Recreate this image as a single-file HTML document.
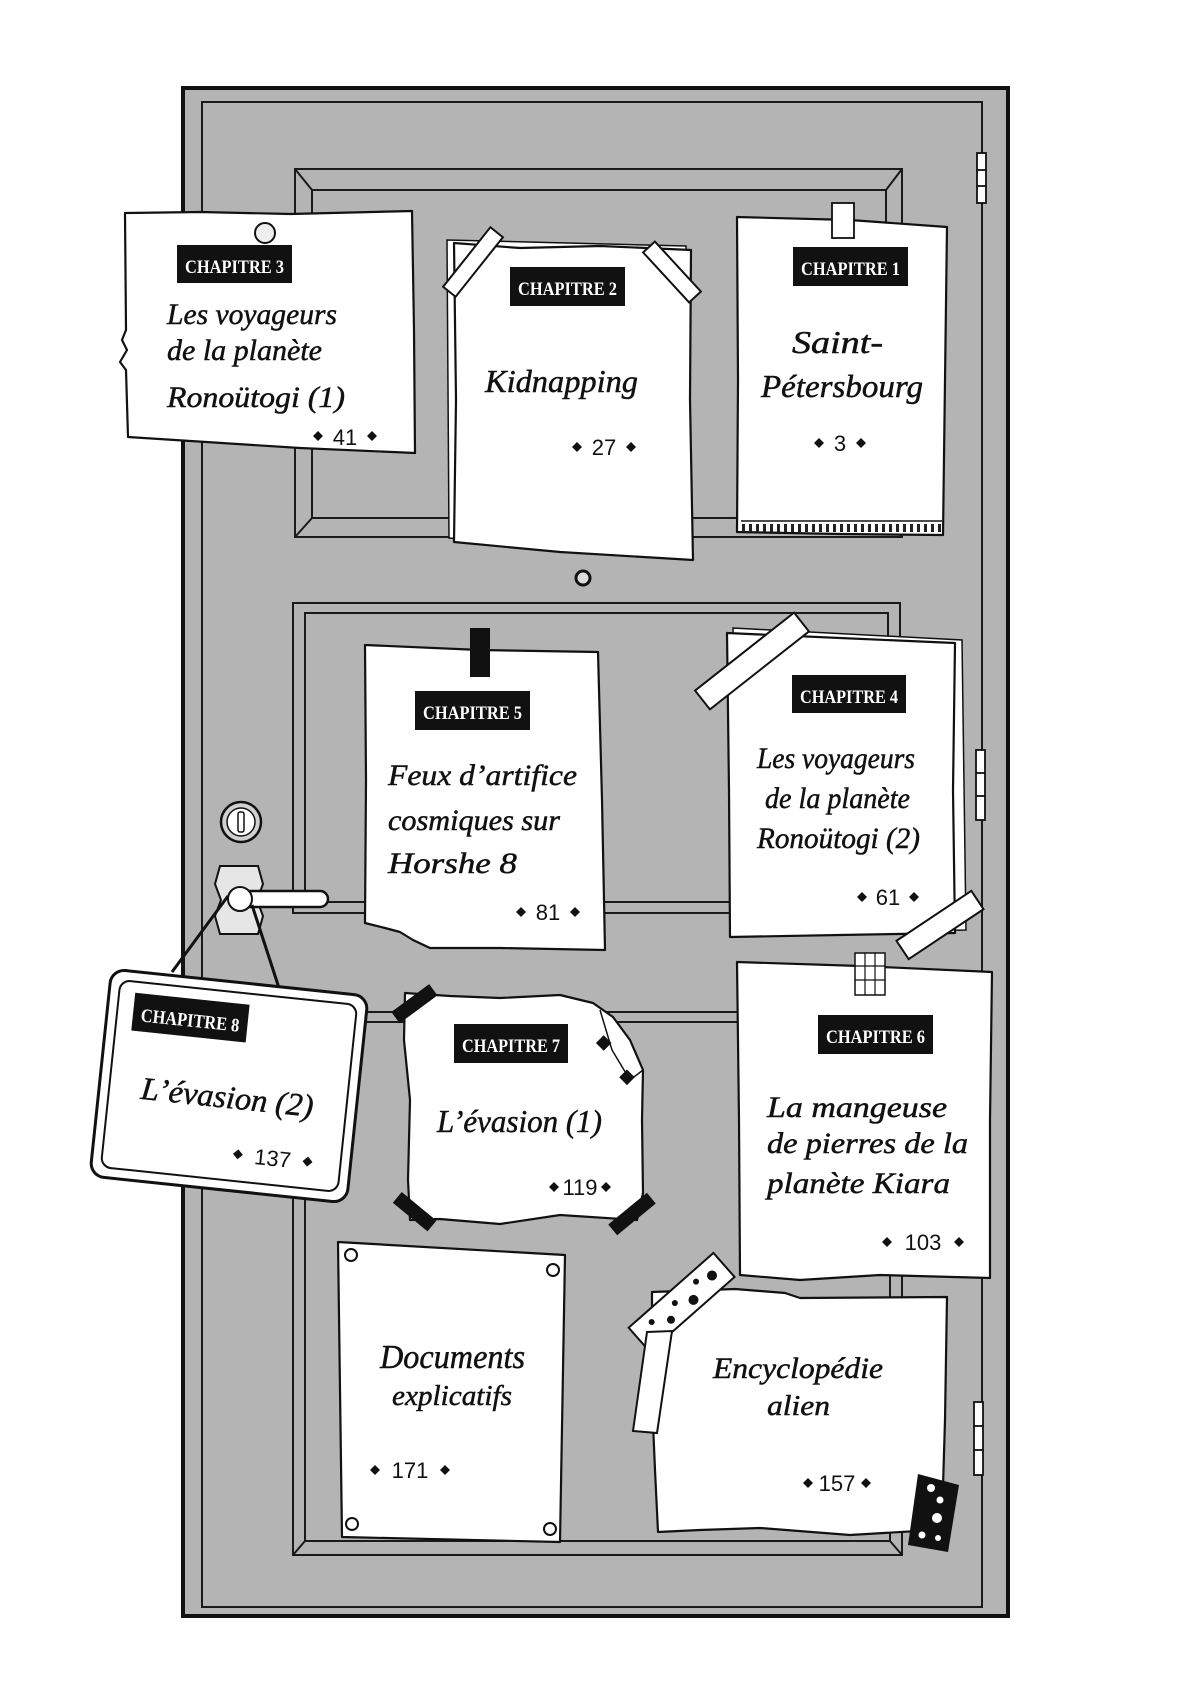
<!DOCTYPE html>
<html>
<head>
<meta charset="utf-8">
<style>
html,body{margin:0;padding:0;background:#fff;}
svg{display:block;}
.t{font-family:"Liberation Serif",serif;font-style:italic;fill:#111;stroke:#111;stroke-width:0.5;}
.lb{font-family:"Liberation Serif",serif;font-weight:bold;fill:#fff;font-size:19px;}
.n{font-family:"Liberation Sans",sans-serif;fill:#111;font-size:22px;}
.p{fill:#fff;stroke:#111;stroke-width:2.2;stroke-linejoin:round;}
.ln{fill:none;stroke:#1a1a1a;stroke-width:2;}
</style>
</head>
<body>
<svg width="1200" height="1706" viewBox="0 0 1200 1706" xmlns="http://www.w3.org/2000/svg">
<rect width="1200" height="1706" fill="#fff"/>

<!-- Door -->
<rect x="183" y="88" width="825" height="1528" fill="#b4b4b4" stroke="#111" stroke-width="4"/>
<rect x="202" y="102" width="780" height="1505" class="ln"/>

<!-- Upper panel -->
<rect x="295" y="169" width="607" height="368" class="ln"/>
<rect x="312" y="190" width="574" height="328" class="ln"/>
<line x1="295" y1="169" x2="312" y2="190" class="ln"/>
<line x1="902" y1="169" x2="886" y2="190" class="ln"/>
<line x1="295" y1="537" x2="312" y2="518" class="ln"/>
<line x1="902" y1="537" x2="886" y2="518" class="ln"/>

<!-- Middle panel -->
<rect x="293" y="603" width="607" height="310" class="ln"/>
<rect x="305" y="613" width="583" height="289" class="ln"/>

<!-- Lower panel -->
<rect x="293" y="1012" width="609" height="543" class="ln"/>
<rect x="305" y="1022" width="585" height="519" class="ln"/>
<line x1="293" y1="1555" x2="305" y2="1541" class="ln"/>
<line x1="902" y1="1555" x2="890" y2="1541" class="ln"/>

<!-- Hinges -->
<g fill="#fff" stroke="#111" stroke-width="1.8">
<rect x="977" y="153" width="9" height="50"/>
<line x1="977" y1="170" x2="986" y2="170"/><line x1="977" y1="186" x2="986" y2="186"/>
<rect x="976" y="750" width="9" height="70"/>
<line x1="976" y1="773" x2="985" y2="773"/><line x1="976" y1="796" x2="985" y2="796"/>
<rect x="974" y="1402" width="9" height="73"/>
<line x1="974" y1="1426" x2="983" y2="1426"/><line x1="974" y1="1450" x2="983" y2="1450"/>
</g>

<!-- Ring -->
<circle cx="583" cy="578" r="7" fill="#ddd" stroke="#111" stroke-width="3"/>

<!-- Keyhole escutcheon -->
<circle cx="241" cy="822" r="20" fill="#d0d0d0" stroke="#111" stroke-width="2.5"/>
<circle cx="241" cy="822" r="14" fill="#fff" stroke="#111" stroke-width="1.5"/>
<rect x="238" y="812" width="6" height="20" rx="2" fill="#fff" stroke="#111" stroke-width="1.5"/>

<!-- Handle -->
<polygon points="220,866 258,866 263,884 257,900 263,916 258,934 220,934 215,916 221,900 215,884" fill="#e6e6e6" stroke="#111" stroke-width="2"/>
<rect x="232" y="891" width="96" height="16" rx="8" fill="#fff" stroke="#111" stroke-width="2.5"/>
<circle cx="240" cy="899" r="12" fill="#fff" stroke="#111" stroke-width="2"/>

<!-- Strings -->
<line x1="228" y1="896" x2="172" y2="972" stroke="#111" stroke-width="3"/>
<line x1="252" y1="905" x2="279" y2="988" stroke="#111" stroke-width="3"/>

<!-- ===== Chapitre 3 ===== -->
<polygon class="p" points="125,213 200,212 290,214 412,211 414,330 415,453 300,448 128,437 126,370 120,362 127,350 122,340 126,330"/>
<circle cx="265" cy="233" r="10" fill="#eee" stroke="#111" stroke-width="2"/>
<rect x="177" y="245" width="115" height="38" fill="#111"/>
<text class="lb" x="185" y="273" textLength="99" lengthAdjust="spacingAndGlyphs">CHAPITRE 3</text>
<text class="t" font-size="30" x="167" y="324" textLength="170" lengthAdjust="spacingAndGlyphs">Les voyageurs</text>
<text class="t" font-size="30" x="167" y="360" textLength="155" lengthAdjust="spacingAndGlyphs">de la planète</text>
<text class="t" font-size="30" x="167" y="407" textLength="178" lengthAdjust="spacingAndGlyphs">Ronoütogi (1)</text>
<polygon points="318,431 323,436 318,441 313,436" fill="#111"/>
<polygon points="372,431 377,436 372,441 367,436" fill="#111"/>
<text class="n" x="345" y="445" text-anchor="middle">41</text>

<!-- ===== Chapitre 2 ===== -->
<polygon points="447,240 686,246 689,556 449,538" fill="#fff" stroke="#111" stroke-width="1.5"/>
<polygon class="p" points="454,243 520,248 600,246 691,250 690,400 693,560 560,552 454,542 456,400"/>
<rect x="465" y="224" width="16" height="76" fill="#fff" stroke="#111" stroke-width="2" transform="rotate(38.5 473 262)"/>
<rect x="664" y="238" width="16" height="68" fill="#fff" stroke="#111" stroke-width="2" transform="rotate(-42.6 672 272)"/>
<rect x="510" y="267" width="115" height="39" fill="#111"/>
<text class="lb" x="518" y="295" textLength="99" lengthAdjust="spacingAndGlyphs">CHAPITRE 2</text>
<text class="t" font-size="32" x="485" y="392" textLength="153" lengthAdjust="spacingAndGlyphs">Kidnapping</text>
<polygon points="577,442 582,447 577,452 572,447" fill="#111"/>
<polygon points="631,442 636,447 631,452 626,447" fill="#111"/>
<text class="n" x="604" y="455" text-anchor="middle">27</text>

<!-- ===== Chapitre 1 ===== -->
<polygon class="p" points="737,217 850,220 947,227 945,380 943,535 840,534 737,532 738,380"/>
<line x1="741" y1="521" x2="942" y2="521" stroke="#111" stroke-width="1.5"/>
<line x1="742" y1="528" x2="941" y2="528" stroke="#222" stroke-width="8" stroke-dasharray="3 4"/>
<rect x="832" y="203" width="22" height="35" fill="#fff" stroke="#111" stroke-width="1.8"/>
<rect x="793" y="247" width="115" height="39" fill="#111"/>
<text class="lb" x="801" y="275" textLength="99" lengthAdjust="spacingAndGlyphs">CHAPITRE 1</text>
<text class="t" font-size="32" x="792" y="353" textLength="91" lengthAdjust="spacingAndGlyphs">Saint-</text>
<text class="t" font-size="32" x="761" y="397" textLength="162" lengthAdjust="spacingAndGlyphs">Pétersbourg</text>
<polygon points="819,438 824,443 819,448 814,443" fill="#111"/>
<polygon points="861,438 866,443 861,448 856,443" fill="#111"/>
<text class="n" x="840" y="451" text-anchor="middle">3</text>

<!-- ===== Chapitre 5 ===== -->
<polygon class="p" points="365,645 480,650 598,652 602,800 605,950 500,948 430,948 413,940 400,932 385,928 365,923 366,780"/>
<rect x="470" y="628" width="20" height="49" fill="#111"/>
<rect x="415" y="691" width="115" height="39" fill="#111"/>
<text class="lb" x="423" y="719" textLength="99" lengthAdjust="spacingAndGlyphs">CHAPITRE 5</text>
<text class="t" font-size="30" x="388" y="785" textLength="189" lengthAdjust="spacingAndGlyphs">Feux d’artifice</text>
<text class="t" font-size="30" x="388" y="830" textLength="172" lengthAdjust="spacingAndGlyphs">cosmiques sur</text>
<text class="t" font-size="30" x="388" y="873" textLength="129" lengthAdjust="spacingAndGlyphs">Horshe 8</text>
<polygon points="521,907 526,912 521,917 516,912" fill="#111"/>
<polygon points="575,907 580,912 575,917 570,912" fill="#111"/>
<text class="n" x="548" y="920" text-anchor="middle">81</text>

<!-- ===== Chapitre 4 ===== -->
<polygon points="733,628 962,640 966,930 738,934" fill="#fff" stroke="#111" stroke-width="1.5"/>
<polygon class="p" points="727,633 840,638 955,643 953,790 955,933 840,935 730,937 729,790"/>
<rect x="740" y="598" width="24" height="126" fill="#fff" stroke="#111" stroke-width="2" transform="rotate(51.8 752 661)"/>
<rect x="929" y="880" width="22" height="90" fill="#fff" stroke="#111" stroke-width="2" transform="rotate(56.3 940 925)"/>
<rect x="792" y="675" width="114" height="38" fill="#111"/>
<text class="lb" x="800" y="703" textLength="98" lengthAdjust="spacingAndGlyphs">CHAPITRE 4</text>
<text class="t" font-size="30" x="757" y="768" textLength="158" lengthAdjust="spacingAndGlyphs">Les voyageurs</text>
<text class="t" font-size="30" x="765" y="808" textLength="145" lengthAdjust="spacingAndGlyphs">de la planète</text>
<text class="t" font-size="30" x="757" y="848" textLength="163" lengthAdjust="spacingAndGlyphs">Ronoütogi (2)</text>
<polygon points="862,892 867,897 862,902 857,897" fill="#111"/>
<polygon points="914,892 919,897 914,902 909,897" fill="#111"/>
<text class="n" x="888" y="905" text-anchor="middle">61</text>

<!-- ===== Chapitre 8 (sign) ===== -->
<g transform="rotate(6 229 1086)">
<rect x="100" y="982" width="258" height="208" rx="14" fill="#fff" stroke="#111" stroke-width="3"/>
<rect x="110" y="992" width="238" height="188" rx="10" fill="#fff" stroke="#111" stroke-width="2"/>
<rect x="126" y="1003" width="115" height="38" fill="#111"/>
<text class="lb" x="134" y="1031" textLength="99" lengthAdjust="spacingAndGlyphs">CHAPITRE 8</text>
<text class="t" font-size="32" x="142" y="1108" textLength="173" lengthAdjust="spacingAndGlyphs">L’évasion (2)</text>
<polygon points="245,1148 250,1153 245,1158 240,1153" fill="#111"/>
<polygon points="315,1148 320,1153 315,1158 310,1153" fill="#111"/>
<text class="n" x="280" y="1161" text-anchor="middle">137</text>
</g>

<!-- ===== Chapitre 7 ===== -->
<polygon class="p" points="405,993 450,996 500,998 560,995 593,1003 613,1017 630,1040 643,1070 642,1120 643,1193 637,1220 560,1215 500,1224 440,1219 410,1220 408,1180 410,1100 404,1040"/>
<path d="M600 1010 L612 1050 L630 1080 L643 1070" fill="none" stroke="#111" stroke-width="1.5"/>
<rect x="598" y="1037" width="11" height="11" fill="#111" transform="rotate(45 603 1043)"/>
<rect x="621" y="1072" width="11" height="11" fill="#111" transform="rotate(45 627 1078)"/>
<rect x="391" y="997" width="47" height="14" fill="#111" transform="rotate(-36.4 414 1004)"/>
<rect x="392" y="1205" width="45" height="14" fill="#111" transform="rotate(39.6 415 1212)"/>
<rect x="607" y="1207" width="50" height="14" fill="#111" transform="rotate(-39.4 632 1214)"/>
<rect x="454" y="1024" width="114" height="39" fill="#111"/>
<text class="lb" x="462" y="1052" textLength="98" lengthAdjust="spacingAndGlyphs">CHAPITRE 7</text>
<text class="t" font-size="32" x="437" y="1132" textLength="165" lengthAdjust="spacingAndGlyphs">L’évasion (1)</text>
<polygon points="554,1182 559,1187 554,1192 549,1187" fill="#111"/>
<polygon points="606,1182 611,1187 606,1192 601,1187" fill="#111"/>
<text class="n" x="580" y="1195" text-anchor="middle">119</text>

<!-- ===== Chapitre 6 ===== -->
<polygon class="p" points="737,962 860,966 992,972 990,1120 990,1278 880,1275 800,1280 740,1275 739,1120"/>
<rect x="855" y="953" width="30" height="42" fill="#fff" stroke="#111" stroke-width="1.5"/>
<g stroke="#111" stroke-width="1.2">
<line x1="865" y1="953" x2="865" y2="995"/><line x1="875" y1="953" x2="875" y2="995"/>
<line x1="855" y1="966" x2="885" y2="966"/><line x1="855" y1="980" x2="885" y2="980"/>
</g>
<rect x="818" y="1015" width="115" height="39" fill="#111"/>
<text class="lb" x="826" y="1043" textLength="99" lengthAdjust="spacingAndGlyphs">CHAPITRE 6</text>
<text class="t" font-size="30" x="767" y="1117" textLength="180" lengthAdjust="spacingAndGlyphs">La mangeuse</text>
<text class="t" font-size="30" x="767" y="1153" textLength="201" lengthAdjust="spacingAndGlyphs">de pierres de la</text>
<text class="t" font-size="30" x="767" y="1193" textLength="183" lengthAdjust="spacingAndGlyphs">planète Kiara</text>
<polygon points="887,1237 892,1242 887,1247 882,1242" fill="#111"/>
<polygon points="959,1237 964,1242 959,1247 954,1242" fill="#111"/>
<text class="n" x="923" y="1250" text-anchor="middle">103</text>

<!-- ===== Documents ===== -->
<polygon class="p" points="338,1242 565,1255 560,1542 342,1537"/>
<g fill="#fff" stroke="#111" stroke-width="2">
<circle cx="351" cy="1255" r="6"/><circle cx="553" cy="1270" r="6"/>
<circle cx="352" cy="1524" r="6"/><circle cx="550" cy="1529" r="6"/>
</g>
<text class="t" font-size="34" x="380" y="1368" textLength="145" lengthAdjust="spacingAndGlyphs">Documents</text>
<text class="t" font-size="28" x="392" y="1405" textLength="120" lengthAdjust="spacingAndGlyphs">explicatifs</text>
<polygon points="375,1465 380,1470 375,1475 370,1470" fill="#111"/>
<polygon points="445,1465 450,1470 445,1475 440,1470" fill="#111"/>
<text class="n" x="410" y="1478" text-anchor="middle">171</text>

<!-- ===== Encyclopédie ===== -->
<polygon class="p" points="652,1292 735,1289 785,1293 800,1298 947,1297 945,1420 942,1520 935,1530 850,1535 760,1528 700,1530 658,1532 655,1470 652,1400"/>
<g transform="rotate(48.6 682 1302)">
<rect x="666" y="1246" width="32" height="113" fill="#fff" stroke="#111" stroke-width="2"/>
<circle cx="682" cy="1262" r="5" fill="#111"/>
<circle cx="676" cy="1278" r="3" fill="#111"/>
<circle cx="688" cy="1292" r="5" fill="#111"/>
<circle cx="678" cy="1308" r="3" fill="#111"/>
<circle cx="688" cy="1322" r="4" fill="#111"/>
<circle cx="677" cy="1338" r="3" fill="#111"/>
</g>
<polygon points="647,1332 672,1331 657,1433 633,1431" fill="#fff" stroke="#111" stroke-width="2"/>
<polygon points="918,1474 959,1485 948,1552 908,1545" fill="#111"/>
<g fill="#fff">
<circle cx="931" cy="1488" r="4"/><circle cx="940" cy="1500" r="3.5"/>
<circle cx="937" cy="1518" r="5"/><circle cx="922" cy="1535" r="3.5"/><circle cx="938" cy="1538" r="3"/>
</g>
<text class="t" font-size="30" x="713" y="1378" textLength="170" lengthAdjust="spacingAndGlyphs">Encyclopédie</text>
<text class="t" font-size="28" x="767" y="1415" textLength="63" lengthAdjust="spacingAndGlyphs">alien</text>
<polygon points="808,1478 813,1483 808,1488 803,1483" fill="#111"/>
<polygon points="866,1478 871,1483 866,1488 861,1483" fill="#111"/>
<text class="n" x="837" y="1491" text-anchor="middle">157</text>

</svg>
</body>
</html>
